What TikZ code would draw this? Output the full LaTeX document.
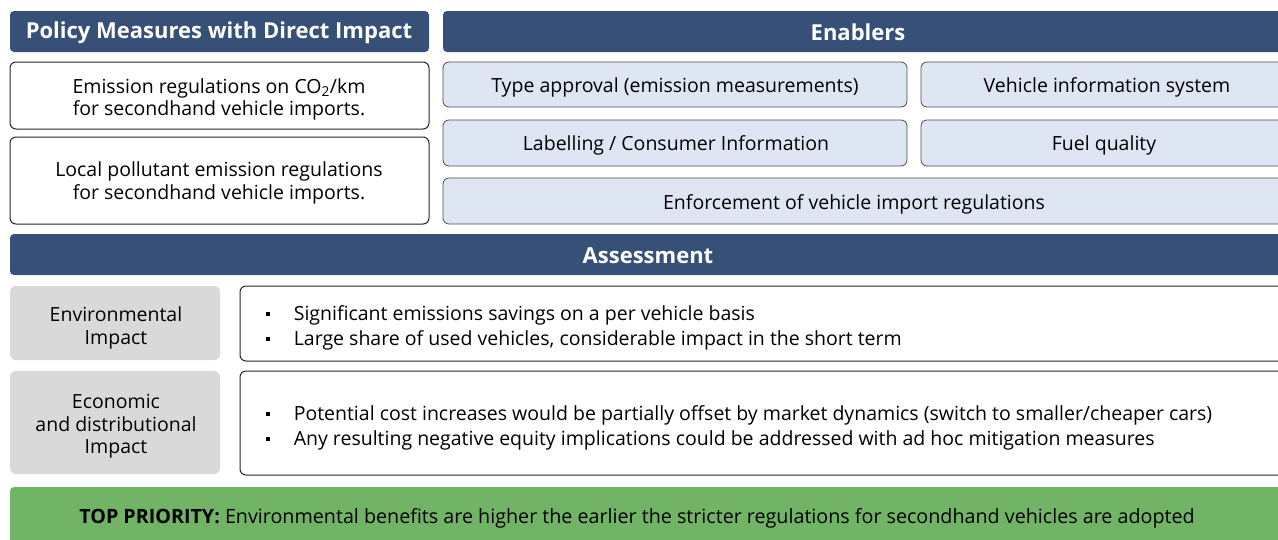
\documentclass[tikz,border=0pt]{standalone}
\usepackage{fontspec}
\setmainfont{Open Sans}
\definecolor{headblue}{RGB}{54,80,120}
\definecolor{enablerblue}{RGB}{222,230,243}
\definecolor{graybox}{RGB}{217,217,217}
\definecolor{prioritygreen}{RGB}{114,180,102}
\newcommand{\sqbullet}{\rule[0.22em]{0.21em}{0.21em}}
\tikzset{
  head/.style={fill=headblue, rounded corners=4pt},
  wbox/.style={draw=black!85, line width=1pt, fill=white, rounded corners=6pt},
  ebox/.style={draw=black!70, line width=0.8pt, fill=enablerblue, rounded corners=6pt},
  gbox/.style={fill=graybox, rounded corners=6pt},
  txt/.style={font=\fontsize{19.5}{22.5}\selectfont, align=center, inner sep=0pt},
  htxt/.style={font=\fontsize{22}{24}\selectfont\bfseries, text=white, inner sep=0pt},
  btxt/.style={font=\fontsize{19.5}{22}\selectfont, anchor=base west, inner sep=0pt}
}
\begin{document}
\begin{tikzpicture}[x=1pt,y=-1pt]
  \clip (0,0) rectangle (1278,539);
  \fill[white] (0,0) rectangle (1278,539);
  % headers
  \path[head] (10,11) rectangle (429,52);
  \node[htxt] (policy) at (219,32.5) {Policy Measures with Direct Impact};
  \path[head] (443,11) rectangle (1300,52);
  \node[htxt] (enablers) at (858,32.5) {Enablers};
  % policy measures
  \path[wbox] (10,62) rectangle (429,129);
  \node[txt] (co2) at (219,99.5) {Emission regulations on CO\textsubscript{2}/km\\ for secondhand vehicle imports.};
  \path[wbox] (10,137) rectangle (429,224);
  \node[txt] (local) at (219,183) {Local pollutant emission regulations\\ for secondhand vehicle imports.};
  % enablers
  \path[ebox] (443,62) rectangle (907,107);
  \node[txt] (typeapp) at (675,87) {Type approval (emission measurements)};
  \path[ebox] (921,62) rectangle (1300,107);
  \node[txt] (vis) at (1107,87) {Vehicle information system};
  \path[ebox] (443,120) rectangle (907,166);
  \node[txt] (label) at (676,145) {Labelling / Consumer Information};
  \path[ebox] (921,120) rectangle (1300,166);
  \node[txt] (fuel) at (1104,145) {Fuel quality};
  \path[ebox] (443,178) rectangle (1300,224);
  \node[txt] (enforce) at (854,204) {Enforcement of vehicle import regulations};
  % assessment
  \path[head] (10,234) rectangle (1300,275);
  \node[htxt] (assess) at (648,256) {Assessment};
  \path[gbox] (10,286) rectangle (220,360);
  \node[txt] (envimp) at (116,328) {Environmental\\ Impact};
  \path[wbox] (240,286) rectangle (1300,361);
  \node[btxt] (env1) at (266,320) {\sqbullet\hspace{23.5pt}Significant emissions savings on a per vehicle basis};
  \node[btxt] (env2) at (266,345) {\sqbullet\hspace{23.5pt}Large share of used vehicles, considerable impact in the short term};
  \path[gbox] (10,371) rectangle (220,474);
  \node[txt] (ecoimp) at (116,426.5) {Economic\\ and distributional\\ Impact};
  \path[wbox] (240,371) rectangle (1300,475);
  \node[btxt] (eco1) at (266,420.5) {\sqbullet\hspace{23.5pt}Potential cost increases would be partially offset by market dynamics (switch to smaller/cheaper cars)};
  \node[btxt] (eco2) at (266,445.5) {\sqbullet\hspace{23.5pt}Any resulting negative equity implications could be addressed with ad hoc mitigation measures};
  % priority bar
  \path[fill=prioritygreen, rounded corners=4pt] (10,487) rectangle (1300,560);
  \node[txt, font=\fontsize{19.7}{22}\selectfont] (prio) at (637,518.5) {\textbf{TOP PRIORITY:} Environmental benefits are higher the earlier the stricter regulations for secondhand vehicles are adopted};
\end{tikzpicture}
\end{document}
